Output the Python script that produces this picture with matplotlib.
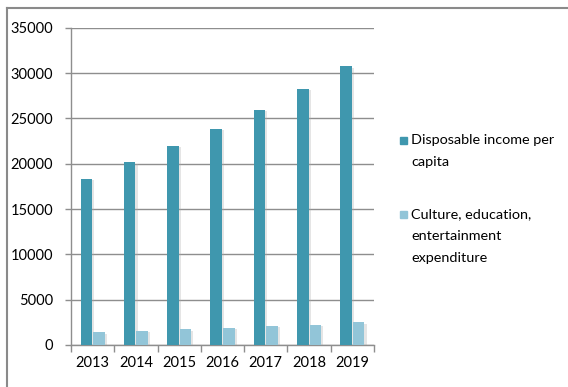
import matplotlib
matplotlib.use("Agg")
import matplotlib.pyplot as plt
import matplotlib.patheffects as pe
from matplotlib.lines import Line2D
from matplotlib.patches import Rectangle
import numpy as np

years = ["2013", "2014", "2015", "2016", "2017", "2018", "2019"]
income = [18311, 20167, 21966, 23821, 25974, 28228, 30733]
culture = [1398, 1536, 1723, 1915, 2086, 2226, 2513]
series_names = [["Disposable income per", "capita"],
                ["Culture, education,", "entertainment", "expenditure"]]
yticks = [0, 5000, 10000, 15000, 20000, 25000, 30000, 35000]

plt.rcParams['font.family'] = ['Lato', 'DejaVu Sans']

W, H = 568, 387
fig = plt.figure(figsize=(W / 100, H / 100), dpi=100)
ax = fig.add_axes([71 / W, 1 - 345 / H, (374 - 71) / W, (345 - 27.7) / H])

c_dark = "#3F97AE"
c_light = "#92C5D8"
grid_c = "#8E8E8E"

x = np.arange(len(years))
bw = 0.27
shadow = [pe.SimplePatchShadow(offset=(1.5, -1), shadow_rgbFace='#aaaaaa', alpha=0.3), pe.Normal()]
b1 = ax.bar(x - 0.145, income, bw, color=c_dark, zorder=3)
b2 = ax.bar(x + 0.145, culture, bw, color=c_light, zorder=3)
for b in list(b1) + list(b2):
    b.set_path_effects(shadow)

ax.set_xlim(-0.5, len(years) - 0.5)
ax.set_ylim(0, 35000)
ax.set_yticks(yticks)
ax.set_yticklabels([str(v) for v in yticks])
ax.yaxis.grid(True, color=grid_c, linewidth=1.0, zorder=0)
ax.set_axisbelow(True)

ax.set_xticks(x)
ax.set_xticklabels(years)
ax.tick_params(axis='x', which='major', length=0, pad=8, labelsize=10.5, colors='black')
ax.set_xticks(np.arange(-0.5, len(years)), minor=True)
ax.tick_params(axis='x', which='minor', length=5, color=grid_c, width=1)
ax.tick_params(axis='y', length=4, color=grid_c, width=1, pad=9, labelsize=10.5)

for s in ['top', 'right']:
    ax.spines[s].set_visible(False)
for s in ['left', 'bottom']:
    ax.spines[s].set_color(grid_c)
    ax.spines[s].set_linewidth(1.0)

# chart border (top and left visible)
fig.add_artist(Line2D([7 / W, 1], [1 - 7.5 / H, 1 - 7.5 / H], color='#8A8A8A', linewidth=1.5))
fig.add_artist(Line2D([7 / W, 7 / W], [0, 1 - 7.5 / H], color='#8A8A8A', linewidth=1.5))

# legend
entries = [(c_dark, series_names[0], 140), (c_light, series_names[1], 214)]
line_h = 21.5
for col, lines, yc in entries:
    fig.add_artist(Rectangle((400 / W, 1 - (yc + 3.5) / H), 7 / W, 7 / H,
                             transform=fig.transFigure, color=col))
    for i, ln in enumerate(lines):
        fig.text(411 / W, 1 - (yc + 4.5 + i * line_h) / H, ln, fontsize=10.4,
                 va='baseline', ha='left')

fig.savefig("out.png", dpi=100)
